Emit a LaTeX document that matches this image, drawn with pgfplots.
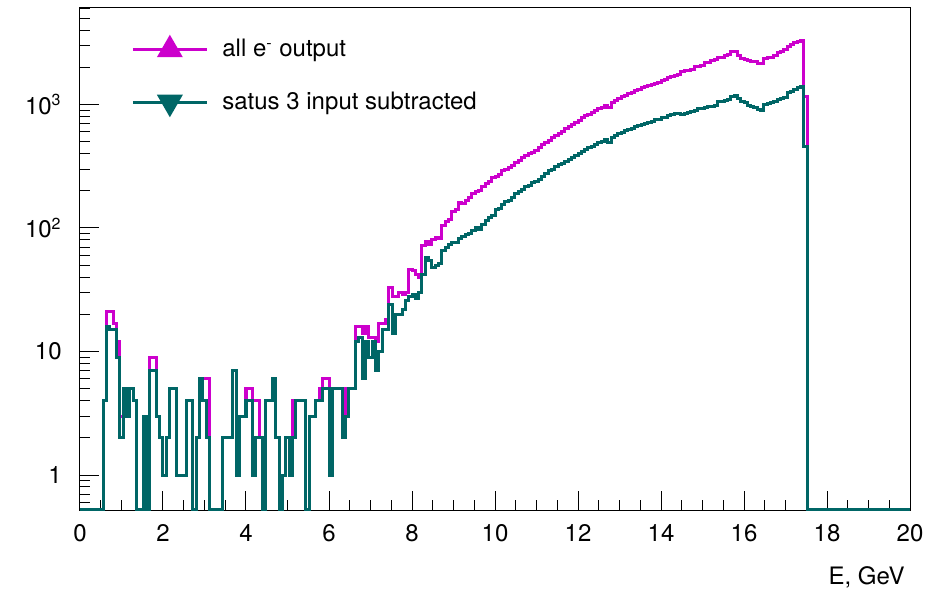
\documentclass[border=0pt]{standalone}
\usepackage{fontspec}
\setmainfont{TeX Gyre Heros}
\usepackage{pgfplots}
\usepackage{pgfplotstable}
\pgfplotsset{compat=1.18}

\definecolor{histmag}{RGB}{204,0,204}
\definecolor{histteal}{RGB}{0,102,102}

% Electron energy spectrum, 0.08 GeV bins (left bin edge, counts)
% T: status-3 input subtracted, M: all e- output
\pgfplotstableread{
E T M
0.00 0 0
0.56 4 4
0.64 16 21
0.72 15 21
0.80 15 17
0.88 9 12
0.96 2 3
1.04 5 5
1.12 3 3
1.20 5 5
1.28 4 4
1.36 0 0
1.44 0 0
1.52 3 3
1.60 0 0
1.68 7 9
1.76 7 9
1.84 3 3
1.92 2 2
2.00 1 1
2.08 2 2
2.16 5 5
2.24 5 5
2.32 1 1
2.40 1 1
2.48 1 1
2.56 4 4
2.64 4 4
2.72 0 0
2.80 2 2
2.88 6 6
2.96 4 6
3.04 2 6
3.12 0 0
3.20 0 0
3.28 0 0
3.36 0 0
3.44 2 2
3.52 2 2
3.60 2 2
3.68 7 7
3.76 1 1
3.84 3 3
3.92 3 3
4.00 4 5
4.08 4 5
4.16 1 4
4.24 2 4
4.32 2 2
4.40 0 0
4.48 4 4
4.56 4 4
4.64 6 6
4.72 2 2
4.80 0 0
4.88 1 1
4.96 2 2
5.04 1 1
5.12 2 4
5.20 4 4
5.28 4 4
5.36 4 4
5.44 0 0
5.52 3 3
5.60 3 3
5.68 4 4
5.76 4 5
5.84 5 6
5.92 5 6
6.00 1 1
6.08 5 5
6.16 5 5
6.24 5 5
6.32 2 2
6.40 3 5
6.48 5 5
6.56 5 5
6.64 12 16
6.72 13 16
6.80 6 14
6.88 12 16
6.96 9 13
7.04 12 13
7.12 7 12
7.20 10 17
7.28 15 17
7.36 15 18
7.44 24 33
7.52 14 28
7.60 20 28
7.68 20 30
7.76 22 29
7.84 26 30
7.92 28 46
8.00 29 45
8.08 27 42
8.16 30 40
8.24 42 72
8.32 58 78
8.40 55 74
8.48 48 80
8.56 50 83
8.64 52 82
8.72 66 105
8.80 70 112
8.88 74 118
8.96 76 135
9.04 77 140
9.12 82 160
9.20 86 158
9.28 88 168
9.36 90 175
9.44 96 190
9.52 100 196
9.60 98 203
9.68 106 216
9.76 115 230
9.84 122 240
9.92 127 255
10.00 140 262
10.08 145 272
10.16 155 290
10.24 163 300
10.32 168 306
10.40 178 320
10.48 190 336
10.56 198 352
10.64 205 370
10.72 215 385
10.80 222 400
10.88 232 410
10.96 240 425
11.04 248 445
11.12 262 470
11.20 275 490
11.28 290 515
11.36 300 540
11.44 315 560
11.52 325 585
11.60 335 600
11.68 345 640
11.76 360 660
11.84 375 690
11.92 385 715
12.00 400 745
12.08 420 780
12.16 435 810
12.24 450 835
12.32 460 860
12.40 475 890
12.48 490 920
12.56 505 950
12.64 520 990
12.72 495 940
12.80 545 1040
12.88 560 1080
12.96 580 1120
13.04 595 1150
13.12 615 1190
13.20 630 1230
13.28 640 1260
13.36 660 1300
13.44 675 1330
13.52 690 1360
13.60 705 1400
13.68 715 1420
13.76 730 1450
13.84 750 1490
13.92 760 1520
14.00 780 1560
14.08 790 1590
14.16 810 1640
14.24 825 1680
14.32 840 1720
14.40 850 1760
14.48 830 1850
14.56 840 1880
14.64 860 1900
14.72 870 1930
14.80 900 2030
14.88 920 2040
14.96 930 2060
15.04 950 2180
15.12 960 2200
15.20 970 2260
15.28 990 2300
15.36 1050 2380
15.44 1060 2420
15.52 1070 2470
15.60 1090 2520
15.68 1150 2680
15.76 1190 2700
15.84 1110 2500
15.92 1060 2350
16.00 1030 2300
16.08 975 2250
16.16 960 2240
16.24 950 2220
16.32 910 2150
16.40 900 2160
16.48 1000 2350
16.56 1010 2380
16.64 1040 2420
16.72 1060 2500
16.80 1090 2620
16.88 1120 2700
16.96 1140 2780
17.04 1240 2950
17.12 1270 3050
17.20 1310 3150
17.28 1360 3220
17.36 1390 3300
17.44 456 1150
17.52 0 0
20.00 0 0
}\spectrum

\begin{document}
\begin{tikzpicture}
\begin{axis}[
  scale only axis,
  width=415pt, height=251pt,
  xmin=0, xmax=20,
  ymode=log, ymin=0.521, ymax=6040,
  axis line style={black, line width=0.5pt},
  xtick={0,2,...,20}, minor x tick num=3,
  ytick={1,10,100,1000},
  yticklabels={1,10,10\textsuperscript{2},10\textsuperscript{3}},
  minor ytick={0.6,0.7,0.8,0.9,2,3,4,5,6,7,8,9,20,30,40,50,60,70,80,90,200,300,400,500,600,700,800,900,2000,3000,4000,5000,6000},
  xtick pos=bottom, ytick pos=left,
  major tick length=9.5pt, minor tick length=5pt,
  tick style={black, line width=0.5pt},
  font=\fontsize{12}{14}\selectfont,
  /pgf/number format/assume math mode=true,
  xticklabel style={inner sep=0pt, yshift=-7pt},
  yticklabel style={inner sep=0pt, xshift=-9pt},
  xlabel={E, GeV},
  xlabel style={at={(rel axis cs:1,0)}, anchor=north east, inner sep=0pt, yshift=-28pt, xshift=-2.5pt},
  legend cell align=left,
  legend image code/.code={\draw[#1, mark repeat=2, mark phase=2] plot coordinates {(0pt,0pt) (18.5pt,0pt) (37pt,0pt)};},
  legend style={draw=none, fill=none, at={(axis description cs:0.0614,0.946)}, anchor=north west,
    inner sep=0pt, row sep=12pt, font=\fontsize{12}{14}\selectfont},
]
\addplot[histmag, line width=1.5pt, const plot, forget plot]
  table[x=E, y expr={max(\thisrow{M},0.53)}] {\spectrum};
\addplot[histteal, line width=1.5pt, const plot, forget plot]
  table[x=E, y expr={max(\thisrow{T},0.53)}] {\spectrum};

\addlegendimage{histmag, line width=1.5pt, mark=triangle*, mark size=6pt, mark options={solid}}
\addlegendentry{\hspace*{5pt}all e\textsuperscript{-} output}
\addlegendimage{histteal, line width=1.5pt, mark=triangle*, mark size=6pt, mark options={solid, rotate=180}}
\addlegendentry{\hspace*{5pt}satus 3 input subtracted}
\end{axis}
\path ([shift={(-40pt,-42.5pt)}]current axis.south west) rectangle ([shift={(16.5pt,4pt)}]current axis.north east);
\end{tikzpicture}
\end{document}
